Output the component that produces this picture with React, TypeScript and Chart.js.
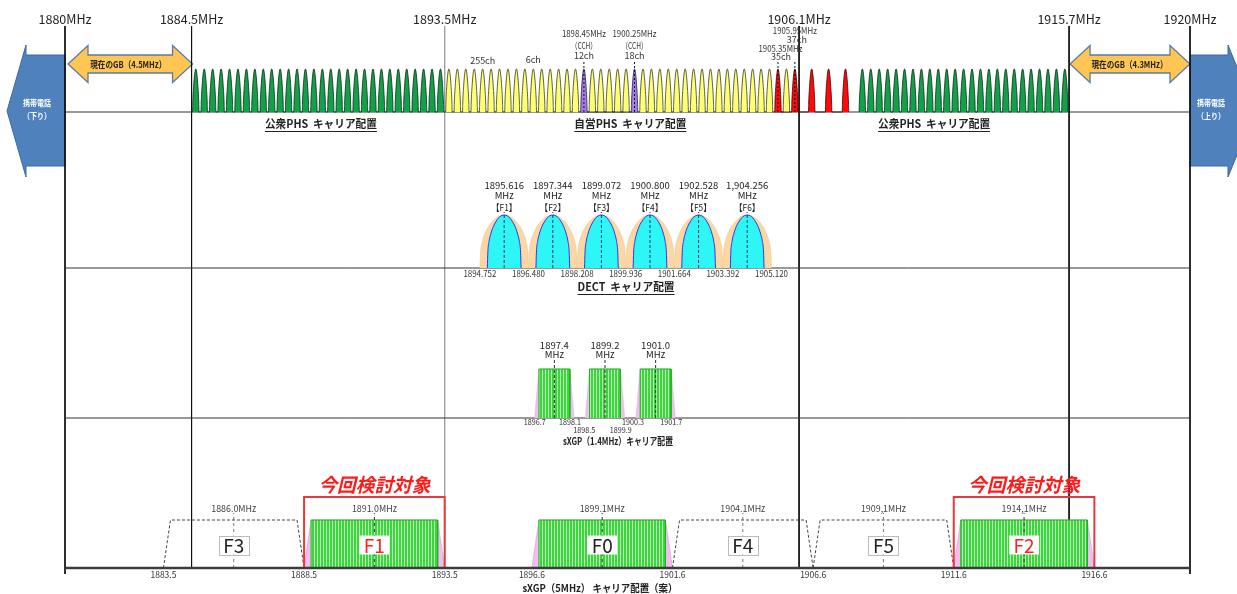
import { useEffect, useRef } from "react";
import { Chart, registerables } from "chart.js";

Chart.register(...registerables);

// ---------------- data (MHz) ----------------
const MARKER_FREQS = [1880, 1884.5, 1893.5, 1906.1, 1915.7, 1920];
const MARKER_LABELS = ["1880MHz", "1884.5MHz", "1893.5MHz", "1906.1MHz", "1915.7MHz", "1920MHz"];

const PHS_PUBLIC_LOW = [
  1884.65, 1884.95, 1885.25, 1885.55, 1885.85, 1886.15, 1886.45, 1886.75, 1887.05, 1887.35,
  1887.65, 1887.95, 1888.25, 1888.55, 1888.85, 1889.15, 1889.45, 1889.75, 1890.05, 1890.35,
  1890.65, 1890.95, 1891.25, 1891.55, 1891.85, 1892.15, 1892.45, 1892.75, 1893.05, 1893.35,
];
const PHS_PRIVATE = [
  1893.65, 1893.95, 1894.25, 1894.55, 1894.85, 1895.15, 1895.45, 1895.75, 1896.05, 1896.35,
  1896.65, 1896.95, 1897.25, 1897.55, 1897.85, 1898.15, 1898.75, 1899.05, 1899.35, 1899.65,
  1899.95, 1900.55, 1900.85, 1901.15, 1901.45, 1901.75, 1902.05, 1902.35, 1902.65, 1902.95,
  1903.25, 1903.55, 1903.85, 1904.15, 1904.45, 1904.75, 1905.05, 1905.65,
];
const PHS_CCH = [1898.45, 1900.25];
const PHS_CCH_LABELS = ["1898.45MHz", "1900.25MHz"];
const PHS_CCH_CH = ["12ch", "18ch"];
const PHS_RED = [1905.35, 1905.95, 1906.55, 1907.15, 1907.75];
const PHS_PUBLIC_HIGH = [
  1908.35, 1908.65, 1908.95, 1909.25, 1909.55, 1909.85, 1910.15, 1910.45, 1910.75, 1911.05,
  1911.35, 1911.65, 1911.95, 1912.25, 1912.55, 1912.85, 1913.15, 1913.45, 1913.75, 1914.05,
  1914.35, 1914.65, 1914.95, 1915.25, 1915.55,
];
const PHS_MARKED = [1898.45, 1900.25, 1905.35, 1905.95];
const PHS_PEAK_HALF = 0.115;

const GB_LEFT = [1880, 1884.5];
const GB_RIGHT = [1915.7, 1920];
const GB_LEFT_LABEL = "現在のGB（4.5MHz）";
const GB_RIGHT_LABEL = "現在のGB（4.3MHz）";

const DECT_CENTERS = [1895.616, 1897.344, 1899.072, 1900.8, 1902.528, 1904.256];
const DECT_CENTER_LABELS = ["1895.616", "1897.344", "1899.072", "1900.800", "1902.528", "1,904.256"];
const DECT_NAMES = ["【F1】", "【F2】", "【F3】", "【F4】", "【F5】", "【F6】"];
const DECT_EDGES = [1894.752, 1896.48, 1898.208, 1899.936, 1901.664, 1903.392, 1905.12];
const DECT_EDGE_LABELS = ["1894.752", "1896.480", "1898.208", "1899.936", "1901.664", "1903.392", "1905.120"];
const DECT_OUTER_HALF = 0.864;
const DECT_INNER_HALF = 0.6;

const X14_CENTERS = [1897.4, 1899.2, 1901.0];
const X14_CENTER_LABELS = ["1897.4", "1899.2", "1901.0"];
const X14_EDGES_ROW1 = [1896.7, 1898.1, 1900.3, 1901.7];
const X14_EDGES_ROW2 = [1898.5, 1899.9];
const X14_HALF_BOTTOM = 0.7;
const X14_HALF_TOP = 0.55;

const X5_NAMES = ["F3", "F1", "F0", "F4", "F5", "F2"];
const X5_CENTERS = [1886.0, 1891.0, 1899.1, 1904.1, 1909.1, 1914.1];
const X5_CENTER_LABELS = ["1886.0MHz", "1891.0MHz", "1899.1MHz", "1904.1MHz", "1909,1MHz", "1914,1MHz"];
const X5_ACTIVE = [false, true, true, false, false, true];
const X5_TARGET = [false, true, false, false, false, true];
const X5_EDGES = [1883.5, 1888.5, 1893.5, 1896.6, 1901.6, 1906.6, 1911.6, 1916.6];
const X5_HALF_BOTTOM = 2.5;
const X5_HALF_TOP = 2.25;
const TARGET_LABEL = "今回検討対象";

// carrier shape templates (normalised half-width, relative height)
const PEAK_U = [-1, -0.95, -0.85, -0.75, -0.6, -0.45, -0.3, -0.15, 0, 0.15, 0.3, 0.45, 0.6, 0.75, 0.85, 0.95, 1];
const PEAK_H = [0, 0.17, 0.37, 0.5, 0.67, 0.81, 0.91, 0.98, 1, 0.98, 0.91, 0.81, 0.67, 0.5, 0.37, 0.17, 0];
const DOME_U = [-1, -0.97, -0.9, -0.8, -0.65, -0.5, -0.35, -0.18, 0, 0.18, 0.35, 0.5, 0.65, 0.8, 0.9, 0.97, 1];
const DOME_H = [0, 0.3, 0.5, 0.64, 0.78, 0.87, 0.94, 0.985, 1, 0.985, 0.94, 0.87, 0.78, 0.64, 0.5, 0.3, 0];

// ---------------- layout ----------------
const W = 1237;
const H = 594;
const PX_PER_MHZ = 28.125;
const X_MIN = 1880 - 65 / PX_PER_MHZ;
const X_MAX = X_MIN + W / PX_PER_MHZ;
const BANDS: Record<string, { base: number; unit: number }> = {
  yPHS: { base: 112, unit: 43 },
  yDECT: { base: 268, unit: 53 },
  yX14: { base: 418, unit: 49 },
  yX5: { base: 568, unit: 48 },
};
const lvl = (axis: string, px: number) => (BANDS[axis].base - px) / BANDS[axis].unit;
const yScale = (axis: string) => {
  const b = BANDS[axis];
  return { type: "linear" as const, display: false, min: -(H - b.base) / b.unit, max: b.base / b.unit };
};
const FONT = '"Noto Sans CJK JP", "Noto Sans", sans-serif';

type P = { x: number; y: number };
function ds(yAxisID: string, data: P[], o: any = {}) {
  return {
    type: "line" as const,
    yAxisID,
    xAxisID: "x",
    data,
    pointRadius: 0,
    pointHoverRadius: 0,
    borderWidth: o.bw ?? 1,
    borderColor: o.stroke ?? "rgba(0,0,0,0)",
    backgroundColor: o.fill ?? "rgba(0,0,0,0)",
    fill: o.fill ? "origin" : false,
    borderDash: o.dash ?? [],
    cubicInterpolationMode: o.smooth ? "monotone" : "default",
    tension: 0,
    clip: false,
    borderCapStyle: "butt",
    borderJoinStyle: "miter",
  };
}
const shapes = (centers: number[], half: number, us: number[], hs: number[]): P[] => {
  const pts: P[] = [];
  centers.forEach((c) => us.forEach((u, i) => pts.push({ x: c + u * half, y: hs[i] })));
  return pts;
};
const trap = (c: number, hb: number, ht: number, h = 1): P[] => [
  { x: c - hb, y: 0 }, { x: c - ht, y: h }, { x: c + ht, y: h }, { x: c + hb, y: 0 },
];
const rect = (a: number, b: number, h: number): P[] => [
  { x: a, y: 0 }, { x: a, y: h }, { x: b, y: h }, { x: b, y: 0 },
];
const vline = (f: number, y0: number, y1: number): P[] => [{ x: f, y: y0 }, { x: f, y: y1 }];

function txt(ctx: CanvasRenderingContext2D, s: string, x: number, y: number, o: any = {}) {
  ctx.save();
  ctx.font = `${o.italic ? "italic " : ""}${o.bold ? "bold " : ""}${o.size ?? 9}px ${FONT}`;
  ctx.fillStyle = o.color ?? "#222";
  ctx.textAlign = o.align ?? "center";
  ctx.textBaseline = "middle";
  const natural = ctx.measureText(s).width;
  const w = o.maxW ? Math.min(o.maxW, natural) : natural;
  if (o.maxW) ctx.fillText(s, x, y, o.maxW);
  else ctx.fillText(s, x, y);
  if (o.underline) {
    ctx.strokeStyle = ctx.fillStyle as string;
    ctx.lineWidth = 1;
    const uy = Math.round(y + (o.size ?? 9) * 0.62) + 0.5;
    ctx.beginPath();
    ctx.moveTo(x - w / 2, uy);
    ctx.lineTo(x + w / 2, uy);
    ctx.stroke();
  }
  ctx.restore();
}

function poly(ctx: CanvasRenderingContext2D, pts: number[][], fill: string, stroke: string, lw = 1) {
  ctx.save();
  ctx.beginPath();
  pts.forEach(([x, y], i) => (i ? ctx.lineTo(x, y) : ctx.moveTo(x, y)));
  ctx.closePath();
  ctx.fillStyle = fill;
  ctx.fill();
  ctx.strokeStyle = stroke;
  ctx.lineWidth = lw;
  ctx.stroke();
  ctx.restore();
}

function doubleArrow(ctx: CanvasRenderingContext2D, xl: number, xr: number, yc: number) {
  const hl = 20, sh = 9, hh = 18.5;
  poly(ctx, [
    [xl, yc], [xl + hl, yc - hh], [xl + hl, yc - sh], [xr - hl, yc - sh], [xr - hl, yc - hh],
    [xr, yc], [xr - hl, yc + hh], [xr - hl, yc + sh], [xl + hl, yc + sh], [xl + hl, yc + hh],
  ], "#FFC653", "#5B7BA5", 1.3);
}

const overlay = {
  id: "overlay",
  beforeDatasetsDraw(chart: any) {
    const ctx: CanvasRenderingContext2D = chart.ctx;
    const X = (f: number) => chart.scales.x.getPixelForValue(f);
    const l = X(1880), r = X(1920);
    poly(ctx, [[l, 55], [l - 39, 55], [l - 39, 45], [l - 58, 111], [l - 39, 177], [l - 39, 166], [l, 166]], "#4F81BD", "#3F6A9C", 1);
    poly(ctx, [[r, 55], [r + 38, 55], [r + 38, 45], [r + 65, 111], [r + 38, 177], [r + 38, 166], [r, 166]], "#4F81BD", "#3F6A9C", 1);
    doubleArrow(ctx, X(GB_LEFT[0]) + 3, X(GB_LEFT[1]) + 1, 64);
    doubleArrow(ctx, X(GB_RIGHT[0]) + 1, X(GB_RIGHT[1]), 64);
  },
  afterDatasetsDraw(chart: any) {
    const ctx: CanvasRenderingContext2D = chart.ctx;
    const X = (f: number) => chart.scales.x.getPixelForValue(f);
    const l = X(1880), r = X(1920);
    txt(ctx, "携帯電話", l - 28, 103, { size: 8.5, bold: true, color: "#fff", maxW: 28 });
    txt(ctx, "（下り）", l - 28, 116, { size: 8.5, bold: true, color: "#fff", maxW: 28 });
    txt(ctx, "携帯電話", r + 21, 103, { size: 8.5, bold: true, color: "#fff", maxW: 28 });
    txt(ctx, "（上り）", r + 21, 116, { size: 8.5, bold: true, color: "#fff", maxW: 28 });
    txt(ctx, GB_LEFT_LABEL, (X(GB_LEFT[0]) + X(GB_LEFT[1])) / 2, 64, { size: 9.5, bold: true, color: "#222", maxW: 76 });
    txt(ctx, GB_RIGHT_LABEL, (X(GB_RIGHT[0]) + X(GB_RIGHT[1])) / 2, 64, { size: 9.5, bold: true, color: "#222", maxW: 76 });
    MARKER_FREQS.forEach((f, i) => txt(ctx, MARKER_LABELS[i], X(f), 19, { size: 12.5, color: "#222" }));
    const sm = { size: 9, color: "#333" };
    PHS_CCH.forEach((f, i) => {
      txt(ctx, PHS_CCH_LABELS[i], X(f), 34, { ...sm, maxW: 44 });
      txt(ctx, "（CCH）", X(f), 46, { ...sm, maxW: 26 });
      txt(ctx, PHS_CCH_CH[i], X(f), 56, sm);
    });
    txt(ctx, "255ch", X(1894.85), 61, sm);
    txt(ctx, "6ch", X(1896.65), 60, sm);
    txt(ctx, "1905.95MHz", X(1905.95), 31, { ...sm, maxW: 44 });
    txt(ctx, "37ch", X(1905.95) + 2, 40, sm);
    txt(ctx, "1905.35MHz", X(1905.35) + 2.5, 49, { ...sm, maxW: 44 });
    txt(ctx, "35ch", X(1905.35) + 3, 57, sm);
    const tt = { size: 11, bold: true, color: "#222", underline: true };
    txt(ctx, "公衆PHS  キャリア配置", X(1889.1), 124, { ...tt, maxW: 112 });
    txt(ctx, "自営PHS  キャリア配置", X(1900.1), 124, { ...tt, maxW: 112 });
    txt(ctx, "公衆PHS  キャリア配置", X(1910.9), 124, { ...tt, maxW: 112 });
    txt(ctx, "DECT  キャリア配置", X(1899.95), 287, { ...tt, maxW: 97 });
    txt(ctx, "sXGP（1.4MHz）キャリア配置", X(1899.66), 441, { size: 10.5, bold: true, color: "#222", maxW: 110 });
    txt(ctx, "sXGP（5MHz） キャリア配置（案）", X(1899.02), 588, { size: 10.5, bold: true, color: "#222", maxW: 155 });
    DECT_CENTERS.forEach((f, i) => {
      txt(ctx, DECT_CENTER_LABELS[i], X(f), 185, { size: 9.5, color: "#222" });
      txt(ctx, "MHz", X(f), 195, { size: 9.5, color: "#222" });
      txt(ctx, DECT_NAMES[i], X(f), 207, { size: 9.5, color: "#222", maxW: 26 });
    });
    DECT_EDGES.forEach((f, i) => txt(ctx, DECT_EDGE_LABELS[i], X(f), 274, { size: 8.5, color: "#333", maxW: 33 }));
    X14_CENTERS.forEach((f, i) => {
      txt(ctx, X14_CENTER_LABELS[i], X(f), 345, { size: 9.5, color: "#222" });
      txt(ctx, "MHz", X(f), 354, { size: 9.5, color: "#222" });
    });
    X14_EDGES_ROW1.forEach((f, i) => txt(ctx, f.toFixed(1), X(f) + (i === 1 || i === 3 ? -4 : i === 2 ? -3 : 0), 422, { size: 8, color: "#333", maxW: 22 }));
    X14_EDGES_ROW2.forEach((f, i) => txt(ctx, f.toFixed(1), X(f) + (i === 1 ? -4 : -1), 430, { size: 8, color: "#333", maxW: 22 }));
    X5_CENTERS.forEach((f, i) => {
      txt(ctx, X5_CENTER_LABELS[i], X(f), 508, { size: 9.5, color: "#444", maxW: 45 });
      const bw = 30, bh = 19, by = 545;
      const x = X(f);
      ctx.save();
      ctx.fillStyle = "#fff";
      ctx.fillRect(x - bw / 2, by - bh / 2, bw, bh);
      if (!X5_ACTIVE[i]) {
        ctx.strokeStyle = "#bbb";
        ctx.lineWidth = 1;
        ctx.strokeRect(Math.round(x - bw / 2) + 0.5, Math.round(by - bh / 2) + 0.5, bw, bh);
      }
      ctx.restore();
      txt(ctx, X5_NAMES[i], x, by + 0.5, { size: 19, color: X5_TARGET[i] ? "#FF2222" : "#222" });
      if (X5_TARGET[i]) {
        txt(ctx, TARGET_LABEL, x, 485, { size: 19, bold: true, italic: true, color: "#FF1A1A", maxW: 112 });
      }
    });
    X5_EDGES.forEach((f) => txt(ctx, f.toFixed(1), X(f), 575, { size: 8.5, color: "#333" }));
  },
};

function buildDatasets(pattern: CanvasPattern | string) {
  const out: any[] = [];
  MARKER_FREQS.forEach((f, i) => {
    const end = i === 0 || i === MARKER_FREQS.length - 1 ? lvl("yX5", 574) : 0;
    out.push(ds("yX5", vline(f, lvl("yX5", 26), end), { stroke: f === 1893.5 ? "#9a9a9a" : "#111", bw: f === 1893.5 ? 1.3 : 1 }));
  });
  ["yPHS", "yDECT", "yX14"].forEach((ax) =>
    out.push(ds(ax, [{ x: 1880, y: 0 }, { x: 1920, y: 0 }], { stroke: "#333", bw: 1 })),
  );
  const groups: [number[], string, string][] = [
    [PHS_PUBLIC_LOW, "#13A04B", "#0d2a17"],
    [PHS_PRIVATE, "#FFFF72", "#3a3a1a"],
    [PHS_CCH, "#A07CEA", "#2a2040"],
    [PHS_RED, "#FF0A0A", "#3a0000"],
    [PHS_PUBLIC_HIGH, "#13A04B", "#0d2a17"],
  ];
  groups.forEach(([freqs, fill, stroke]) =>
    out.push(ds("yPHS", shapes(freqs, PHS_PEAK_HALF, PEAK_U, PEAK_H), { fill, stroke, bw: 0.8, smooth: true })),
  );
  PHS_MARKED.forEach((f) => out.push(ds("yPHS", vline(f, 0, lvl("yPHS", 62)), { stroke: "#111", bw: 1, dash: [2, 2] })));
  DECT_CENTERS.forEach((c) => {
    out.push(ds("yDECT", shapes([c], DECT_OUTER_HALF, DOME_U, DOME_H), { fill: "#FBD7A6", stroke: "#F0C68C", bw: 0.6, smooth: true }));
  });
  DECT_CENTERS.forEach((c) => {
    out.push(ds("yDECT", shapes([c], DECT_INNER_HALF, DOME_U, DOME_H), { fill: "#2FF6F6", stroke: "#3636E0", bw: 1, smooth: true }));
    out.push(ds("yDECT", vline(c, 0, lvl("yDECT", 212)), { stroke: "#1a3a5a", bw: 1, dash: [3, 2] }));
  });
  X14_CENTERS.forEach((c) => {
    out.push(ds("yX14", trap(c, X14_HALF_BOTTOM, X14_HALF_TOP), { fill: "#F2BDF0", stroke: "#E8AEE6", bw: 0.6 }));
    out.push(ds("yX14", rect(c - X14_HALF_TOP, c + X14_HALF_TOP, 1), { fill: pattern, stroke: "#1FB41F", bw: 1 }));
    out.push(ds("yX14", vline(c, 0, lvl("yX14", 358)), { stroke: "#333", bw: 1, dash: [3, 2] }));
  });
  X5_CENTERS.forEach((c, i) => {
    if (X5_ACTIVE[i]) {
      out.push(ds("yX5", trap(c, X5_HALF_BOTTOM, X5_HALF_TOP), { fill: "#F2BDF0", stroke: "#cfa0cf", bw: 0.6 }));
      out.push(ds("yX5", rect(c - X5_HALF_TOP, c + X5_HALF_TOP, 1), { fill: pattern, stroke: "#1FB41F", bw: 1 }));
    } else {
      const t = trap(c, X5_HALF_BOTTOM, X5_HALF_TOP);
      out.push(ds("yX5", [...t, t[0]], { stroke: "#444", bw: 1, dash: [3, 2] }));
    }
    out.push(ds("yX5", vline(c, 0, lvl("yX5", 513)), { stroke: X5_ACTIVE[i] ? "#333" : "#777", bw: 1, dash: [3, 3] }));
    if (X5_TARGET[i]) {
      out.push(ds("yX5", rect(c - X5_HALF_BOTTOM, c + X5_HALF_BOTTOM, lvl("yX5", 497)), { stroke: "#E83A3A", bw: 2 }));
    }
  });
  out.push(ds("yX5", [{ x: 1880, y: 0 }, { x: 1920, y: 0 }], { stroke: "#3c3c3c", bw: 2.6 }));
  out.forEach((d, i) => (d.order = -i));
  return out;
}

export default function App() {
  const ref = useRef<HTMLCanvasElement>(null);
  useEffect(() => {
    document.body.style.margin = "0";
    const canvas = ref.current!;
    const ctx = canvas.getContext("2d")!;
    const pc = document.createElement("canvas");
    pc.width = 3;
    pc.height = 4;
    const g = pc.getContext("2d")!;
    g.fillStyle = "#3ED43E";
    g.fillRect(0, 0, 3, 4);
    g.fillStyle = "#B4F1B4";
    g.fillRect(2, 0, 1, 4);
    const pattern = ctx.createPattern(pc, "repeat") ?? "#3ED43E";
    const chart = new Chart(canvas, {
      type: "line",
      data: { datasets: buildDatasets(pattern) },
      options: {
        animation: false,
        responsive: false,
        devicePixelRatio: 1,
        events: [],
        layout: { padding: 0 },
        plugins: { legend: { display: false }, tooltip: { enabled: false } },
        scales: {
          x: { type: "linear", display: false, min: X_MIN, max: X_MAX },
          yPHS: yScale("yPHS"),
          yDECT: yScale("yDECT"),
          yX14: yScale("yX14"),
          yX5: yScale("yX5"),
        },
      } as any,
      plugins: [overlay],
    });
    return () => chart.destroy();
  }, []);
  return (
    <div style={{ width: W, height: H, background: "#fff" }}>
      <canvas ref={ref} width={W} height={H} style={{ display: "block" }} />
    </div>
  );
}
